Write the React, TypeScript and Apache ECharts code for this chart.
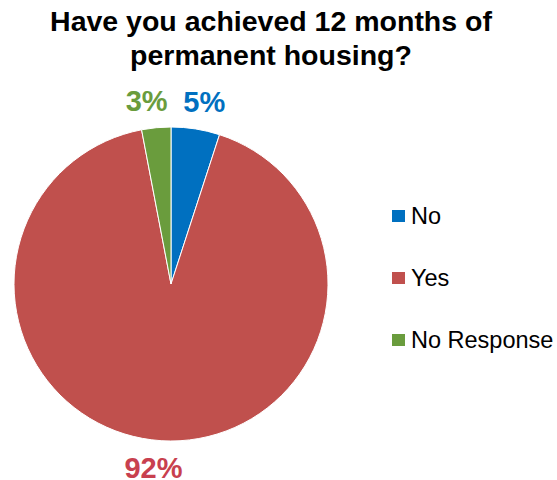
import React, { useEffect, useRef } from "react";
import * as echarts from "echarts";

const categories = ["No", "Yes", "No Response"];
const values = [5, 92, 3];
const colors = ["#0070C0", "#C0504D", "#6A9C3D"];
const labelColors = ["#0070C0", "#C8404E", "#6A9C3D"];

export default function App() {
  const ref = useRef<HTMLDivElement>(null);
  useEffect(() => {
    document.body.style.margin = "0";
    const chart = echarts.init(ref.current!, null, { renderer: "svg" });
    const cx = 171, cy = 284, r = 157, R = 184;
    const total = values.reduce((a, b) => a + b, 0);
    const nudges = [4.5, -6, -7];
    chart.setOption({
      animation: false,
      title: {
        text: "Have you achieved 12 months of\npermanent housing?",
        left: 271,
        textAlign: "center",
        top: 3.5,
        padding: 0,
        textStyle: { fontFamily: "Liberation Sans, Arial", fontSize: 28.5, fontWeight: "bold", color: "#000", lineHeight: 34 },
      },
      legend: {
        orient: "vertical",
        left: 390,
        top: 204,
        padding: 0,
        itemWidth: 15,
        itemHeight: 14,
        itemGap: 38,
        icon: "rect",
        textStyle: { fontFamily: "Liberation Sans, Arial", fontSize: 23.5, color: "#000", lineHeight: 24 },
        data: categories,
      },
      series: [
        {
          type: "pie",
          center: [cx, cy],
          radius: r,
          startAngle: 90,
          clockwise: true,
          data: categories.map((c, i) => ({
            name: c,
            value: values[i],
            itemStyle: { color: colors[i] },
            label: { color: labelColors[i] },
          })),
          itemStyle: { borderColor: "#fff", borderWidth: 1 },
          label: {
            show: true,
            position: "outside",
            formatter: (p: any) => `${p.value}%`,
            fontFamily: "Liberation Sans, Arial",
            fontSize: 29,
            lineHeight: 22,
            fontWeight: "bold",
          },
          labelLine: { show: false },
          labelLayout: (params: any) => {
            const i = params.dataIndex;
            let cum = 0;
            for (let k = 0; k < i; k++) cum += values[k];
            const mid = ((cum + values[i] / 2) / total) * Math.PI * 2;
            return {
              x: cx + R * Math.sin(mid) + nudges[i],
              y: cy - R * Math.cos(mid),
              align: "center",
              verticalAlign: "middle",
            };
          },
        },
      ],
    });
    return () => chart.dispose();
  }, []);
  return <div ref={ref} style={{ width: 557, height: 480 }} />;
}
